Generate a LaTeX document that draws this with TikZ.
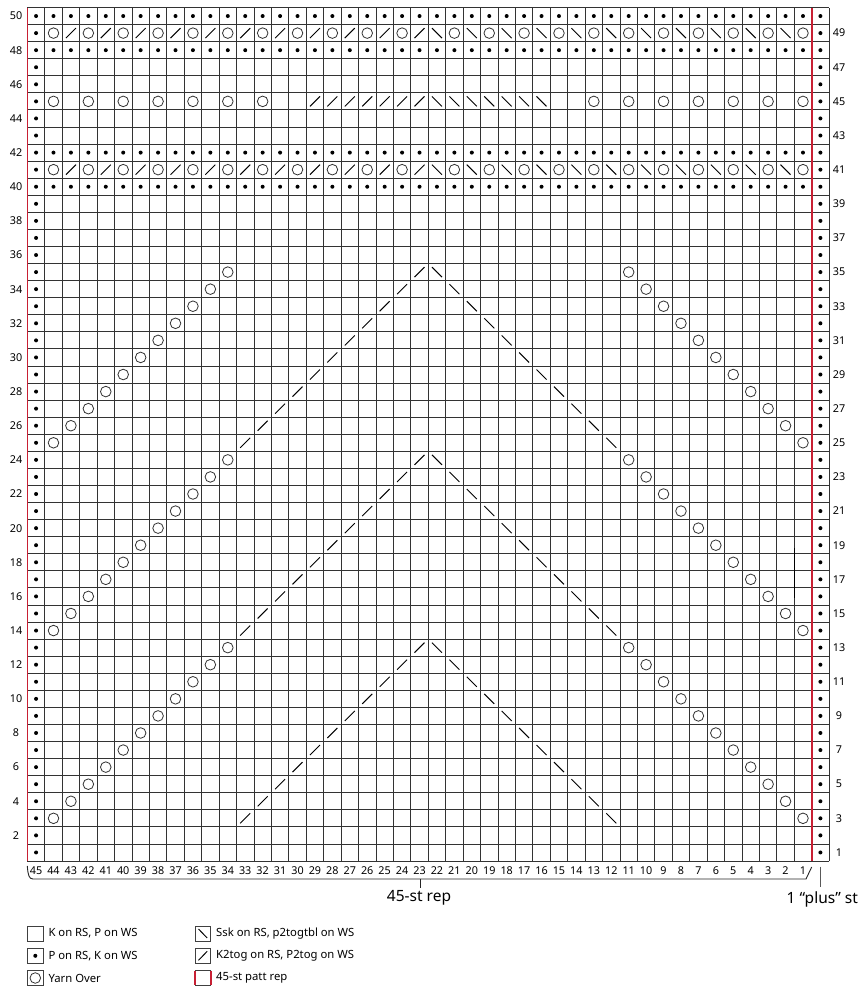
\documentclass[tikz,border=0pt]{standalone}
\usepackage{fontspec}
\setmainfont{Noto Sans}
\definecolor{repred}{RGB}{200,32,52}
\tikzset{
  gridl/.style={draw=black!80, line width=0.85pt},
  redl/.style={draw=repred, line width=1.6pt},
  num/.style={font=\fontsize{10.8}{12}\selectfont, inner sep=0pt},
  leg/.style={font=\fontsize{11.3}{13}\selectfont, anchor=west, inner sep=0pt},
  big/.style={font=\fontsize{15.5}{18}\selectfont, inner sep=0pt},
  legbox/.style={draw=black!75, line width=0.9pt},
  symline/.style={draw=black, line width=0.95pt},
  yoline/.style={draw=black!80, line width=0.8pt},
}
\newcommand{\PD}[2]{\fill[black] ({-(#1)+0.5},{(#2)-0.5}) circle (2pt);}
\newcommand{\YO}[2]{\draw[yoline] ({-(#1)+0.5},{(#2)-0.5}) circle (5.3pt);}
\newcommand{\KT}[2]{\draw[symline,shift={({-(#1)+0.5},{(#2)-0.5})}] (-5pt,-5pt) -- (5pt,5pt);}
\newcommand{\SK}[2]{\draw[symline,shift={({-(#1)+0.5},{(#2)-0.5})}] (-5pt,5pt) -- (5pt,-5pt);}
\begin{document}
\begin{tikzpicture}[x=1pt,y=-1pt]
\useasboundingbox (0,0) rectangle (863,988);
\fill[white] (0,0) rectangle (863,988);

\begin{scope}[shift={(811.7,861)}, x={(17.43pt,0pt)}, y={(0pt,17.07pt)}]
  % grid
  \foreach \i in {-45,...,1} \draw[gridl] (\i,0) -- (\i,50);
  \foreach \j in {0,...,50} \draw[gridl] (-45,\j) -- (1,\j);
  \draw[redl] (-45,0) -- (-45,50);
  \draw[redl] (0,0) -- (0,50);
  % artifact dark segment
  \draw[black, line width=1.2pt] (-1,15.41) -- (-1,18.34);
  % edge purl columns
  \foreach \r in {1,...,50} {\PD{45}{\r} \PD{0}{\r}}
  % purl rows
  \foreach \r in {40,42,48,50} \foreach \c in {1,...,44} {\PD{\c}{\r}}
  % eyelet rows 41, 49
  \foreach \r in {41,49} {
    \foreach \c in {24,26,...,44} {\YO{\c}{\r}}
    \foreach \c in {23,25,...,43} {\KT{\c}{\r}}
    \foreach \c in {2,4,...,22} {\SK{\c}{\r}}
    \foreach \c in {1,3,...,21} {\YO{\c}{\r}}
  }
  % row 45
  \foreach \c in {32,34,...,44} {\YO{\c}{45}}
  \foreach \c in {23,...,29} {\KT{\c}{45}}
  \foreach \c in {16,...,22} {\SK{\c}{45}}
  \foreach \c in {1,3,...,13} {\YO{\c}{45}}
  % diagonal blocks
  \foreach \s in {3,14,25} \foreach \k in {0,...,10} {
    \YO{44-\k}{\s+\k}
    \KT{33-\k}{\s+\k}
    \SK{12+\k}{\s+\k}
    \YO{1+\k}{\s+\k}
  }
  % row numbers
  \foreach \r in {2,4,...,50} \node[num] (rl\r) at (-45.65,\r-0.5) {\r};
  \foreach \r in {1,3,...,49} \node[num] (rr\r) at (1.566,\r-0.5) {\r};
  % column numbers
  \foreach \c in {1,...,45} \node[num] (cn\c) at (-\c+0.5,-0.568) {\c};
\end{scope}

% bracket
\draw[black!85, line width=0.9pt] (27.3,866) .. controls (28,875) and (29,879) .. (33,879) -- (806,879) -- (811.7,867);
\coordinate (tickA) at (420,879);
\coordinate (tickB) at (420,887.5);
\draw[black!85, line width=0.9pt] (tickA) -- (tickB);
\node[big] (reptxt) at (419,897.5) {45-st rep};
\coordinate (plusA) at (820.7,866.7);
\coordinate (plusB) at (820.7,886.7);
\draw[black!65, line width=1.5pt] (plusA) -- (plusB);
\node[big, anchor=west] (plustxt) at (786.5,899) {1 “plus” st};

% legend column 1
\draw[legbox] (27.3,926) rectangle (43.3,941);
\node[leg] (l1) at (48.3,933.5) {K on RS, P on WS};
\draw[legbox] (27.3,948.3) rectangle (43.3,963.3);
\fill[black] (35.3,955.8) circle (2);
\node[leg] (l2) at (48.3,955.8) {P on RS, K on WS};
\draw[legbox] (27.3,970.7) rectangle (43.3,985.3);
\draw[yoline] (35.3,978) circle (5.3);
\node[leg] (l3) at (48.3,978) {Yarn Over};
% legend column 2
\draw[legbox] (195,926) rectangle (210.7,941);
\draw[symline] (198.5,929) -- (207.2,938);
\node[leg] (l4) at (216,933.5) {Ssk on RS, p2togtbl on WS};
\draw[legbox] (195,948.3) rectangle (210.7,963.3);
\draw[symline] (198.5,960.3) -- (207.2,951.3);
\node[leg] (l5) at (216,955.8) {K2tog on RS, P2tog on WS};
\draw[legbox] (195,970.7) -- (210.7,970.7);
\draw[legbox] (195,985.3) -- (210.7,985.3);
\draw[redl, line width=2pt] (195,970.7) -- (195,985.3);
\draw[redl, line width=2pt] (210.7,970.7) -- (210.7,985.3);
\node[leg] (l6) at (216,978) {45-st patt rep};
\end{tikzpicture}
\end{document}
